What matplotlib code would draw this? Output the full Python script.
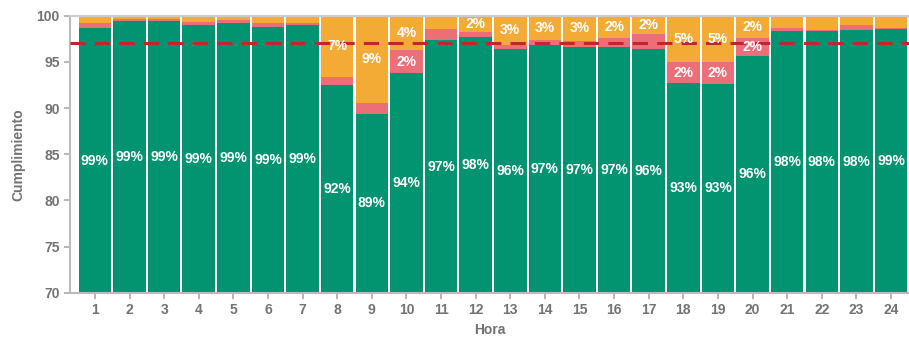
import matplotlib
matplotlib.use("Agg")
import matplotlib.pyplot as plt
import numpy as np

plt.rcParams['font.family'] = ['Liberation Sans', 'DejaVu Sans']

# Hourly compliance breakdown (percent)
horas = list(range(1, 25))
cumple = [98.6, 99.45, 99.4, 99.0, 99.15, 98.8, 99.0, 92.5, 89.4, 93.8, 97.3, 97.7,
          96.4, 96.8, 96.6, 96.6, 96.35, 92.7, 92.6, 95.65, 98.3, 98.3, 98.4, 98.55]
rojo = [0.6, 0.15, 0.2, 0.3, 0.4, 0.35, 0.2, 0.83, 1.15, 2.45, 1.26, 0.47,
        0.36, 0.6, 0.65, 1.0, 1.6, 2.27, 2.4, 1.9, 0.4, 0.15, 0.54, 0.05]
naranja = [100 - c - r for c, r in zip(cumple, rojo)]
meta = 97

c_verde = '#029470'
c_rojo = '#EC6E77'
c_naranja = '#F3AB35'
c_meta = '#C0262C'
c_gris = '#737373'

fig = plt.figure(figsize=(9.09, 3.41), dpi=100)
ax = fig.add_axes([0.077, 0.1408, 0.923, 0.8137])

x = np.array(horas)
ylo = 70
w = 0.94
ax.bar(x, cumple, width=w, color=c_verde, linewidth=0, zorder=2)
ax.bar(x, rojo, width=w, bottom=cumple, color=c_rojo, linewidth=0, zorder=2)
bot_n = [c + r for c, r in zip(cumple, rojo)]
ax.bar(x, naranja, width=w, bottom=bot_n, color=c_naranja, linewidth=0, zorder=2)

ax.axhline(meta, color=c_meta, linestyle=(0, (5, 3)), linewidth=2.2, zorder=4)

umbral = 1.75
for xi, c, r, n in zip(x, cumple, rojo, naranja):
    ax.text(xi, (ylo + c) / 2, f"{c:.0f}%", ha='center', va='center', color='white',
            fontsize=10, fontweight='bold', zorder=5)
    if r >= umbral:
        ax.text(xi, c + r / 2, f"{r:.0f}%", ha='center', va='center', color='white',
                fontsize=10, fontweight='bold', zorder=5)
    if n >= umbral:
        ax.text(xi, c + r + n / 2, f"{n:.0f}%", ha='center', va='center', color='white',
                fontsize=10, fontweight='bold', zorder=5)

ax.set_ylim(ylo, 100)
ax.set_xlim(0.28, 24.52)
ax.set_yticks(range(70, 101, 5))
ax.set_xticks(horas)
ax.set_xticklabels([str(h) for h in horas])

for s in ['left', 'bottom']:
    ax.spines[s].set_color('#BBBBBB')
    ax.spines[s].set_linewidth(1.5)
ax.spines['top'].set_color('#CCCCCC')
ax.spines['top'].set_linewidth(1.5)
ax.spines['right'].set_visible(False)

ax.tick_params(axis='both', colors='#AAAAAA', length=4, width=1.2, labelsize=10,
               labelcolor=c_gris)
for lab in ax.get_xticklabels() + ax.get_yticklabels():
    lab.set_fontweight('bold')

ax.set_ylabel('Cumplimiento', fontsize=10, fontweight='bold', color=c_gris, labelpad=8)
ax.set_xlabel('Hora', fontsize=10, fontweight='bold', color=c_gris, labelpad=4)

fig.savefig('out.png', dpi=100)
